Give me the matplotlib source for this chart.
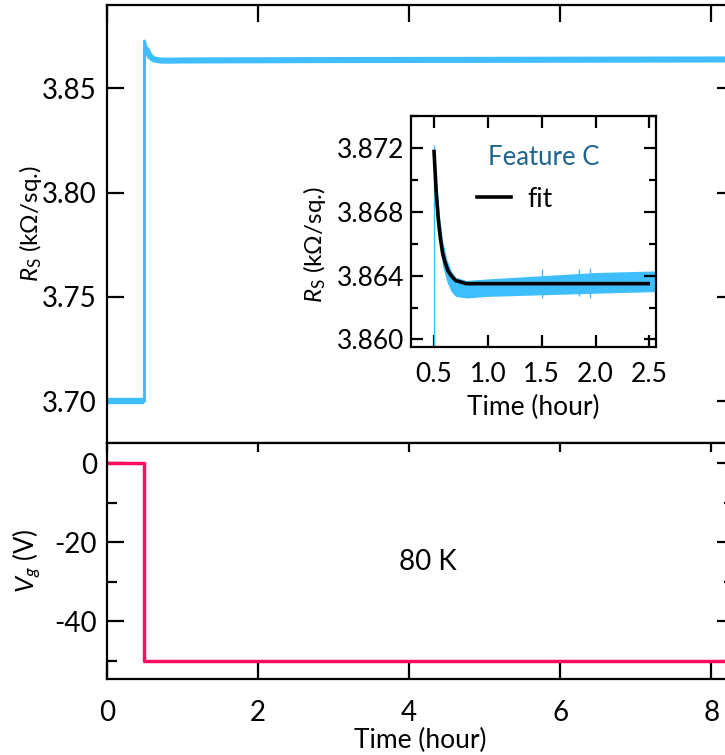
import matplotlib
matplotlib.use("Agg")
import matplotlib.pyplot as plt
from matplotlib.ticker import MultipleLocator, FormatStrFormatter

FONT = ['Lato', 'DejaVu Sans']
plt.rcParams['font.family'] = FONT
plt.rcParams['mathtext.fontset'] = 'custom'
plt.rcParams['mathtext.rm'] = 'Lato'
plt.rcParams['mathtext.it'] = 'Lato:italic'
plt.rcParams['axes.linewidth'] = 1.6
plt.rcParams['axes.unicode_minus'] = False

BLUE = '#3FBEFF'
RED = '#FF0D63'
TEAL = '#1D6490'

# main panel: sheet resistance (kOhm/sq.) vs time (hour)
rs_t = [0.0, 0.50, 0.50, 0.53, 0.57, 0.62, 0.70, 0.80, 1.0, 3.0, 5.0, 8.3]
rs_v = [3.7000, 3.7000, 3.8727, 3.8685, 3.8655, 3.8640, 3.8634, 3.8633,
        3.8634, 3.8636, 3.8637, 3.8639]

# gate voltage (V)
vg_t = [0.0, 0.5, 0.5, 8.3]
vg_v = [0, 0, -50, -50]

# inset: noisy data band, spikes and the fit
band_t = [0.50, 0.52, 0.55, 0.58, 0.62, 0.66, 0.70, 0.80, 1.00, 1.50, 2.00, 2.56]
band_hi = [3.8723, 3.8700, 3.8678, 3.8662, 3.8650, 3.8643, 3.8639, 3.8637,
           3.8638, 3.8640, 3.8642, 3.8643]
band_lo = [3.8712, 3.8688, 3.8662, 3.8646, 3.8636, 3.8630, 3.8627, 3.8626,
           3.8627, 3.8628, 3.8629, 3.8630]
spike_t = [0.50, 1.50, 1.85, 1.95]
spike_hi = [3.8722, 3.8644, 3.8644, 3.8645]
spike_lo = [3.8596, 3.8626, 3.8627, 3.8626]

fit_t = [0.50, 0.52, 0.54, 0.56, 0.58, 0.60, 0.63, 0.66, 0.70, 0.75, 0.80,
         0.90, 1.20, 2.49]
fit_r = [3.8718, 3.8693, 3.8675, 3.8663, 3.8654, 3.8649, 3.8643, 3.8640,
         3.8637, 3.8636, 3.8635, 3.8635, 3.8635, 3.8635]

fig = plt.figure(figsize=(7.25, 7.55), dpi=100)
W, H = 725, 755


def px_axes(l, t, r, b):
    return fig.add_axes([l / W, (H - b) / H, (r - l) / W, (b - t) / H])


ax1 = px_axes(106.7, 5, 734, 443)
ax2 = px_axes(106.7, 443, 734, 679.3)
ins = px_axes(411, 115.7, 656, 346.7)

# --- top panel
ax1.plot(rs_t, rs_v, color=BLUE, lw=2.2, solid_capstyle='butt')
ax1.plot(rs_t[:2], rs_v[:2], color=BLUE, lw=4.6, solid_capstyle='butt')
ax1.plot(rs_t[3:], rs_v[3:], color=BLUE, lw=4.4, solid_capstyle='round')
ax1.set_xlim(0, 8.3)
ax1.set_ylim(3.680, 3.890)
ax1.yaxis.set_major_locator(MultipleLocator(0.05))
ax1.xaxis.set_major_locator(MultipleLocator(2))
ax1.yaxis.set_major_formatter(FormatStrFormatter('%.2f'))
ax1.tick_params(axis='both', direction='in', length=12.5, width=1.6,
                labelsize=20, top=True, right=True, bottom=False,
                labelbottom=False, pad=7)
ax1.set_ylabel(r'$R_\mathrm{S}$ (kΩ/sq.)', fontsize=17.5)
ax1.yaxis.set_label_coords(-0.100, 0.5)

# --- bottom panel
ax2.plot(vg_t, vg_v, color=RED, lw=2.5, solid_capstyle='butt')
ax2.set_xlim(0, 8.3)
ax2.set_ylim(-54.7, 5.1)
ax2.yaxis.set_major_locator(MultipleLocator(20))
ax2.yaxis.set_minor_locator(MultipleLocator(10))
ax2.xaxis.set_major_locator(MultipleLocator(2))
ax2.tick_params(axis='both', which='major', direction='in', length=12.5,
                width=1.6, labelsize=20, right=True, pad=7)
ax2.tick_params(axis='x', which='major', pad=15)
ax2.tick_params(axis='y', which='minor', direction='in', length=7,
                width=1.6, right=True)
ax2.tick_params(axis='x', which='major', top=True)
for tk in ax2.xaxis.get_major_ticks():
    tk.tick2line.set_marker(matplotlib.lines.TICKDOWN)
    tk.tick2line.set_markersize(6.5)
ax2.set_xlabel('Time (hour)', fontsize=19, labelpad=1)
ax2.set_ylabel(r'$V_g$ (V)', fontsize=18.5)
ax2.yaxis.set_label_coords(-0.100, 0.5)
ax2.text(4.25, -25, '80 K', fontsize=20, ha='center', va='center')

# --- inset
ins.fill_between(band_t, band_lo, band_hi, color=BLUE, lw=0)
ins.vlines(spike_t, spike_lo, spike_hi, color=BLUE, lw=1.0)
ins.plot(fit_t, fit_r, color='black', lw=2.6, label='fit')
ins.set_xlim(0.286, 2.562)
ins.set_ylim(3.85954, 3.87405)
ins.xaxis.set_major_locator(MultipleLocator(0.5))
ins.yaxis.set_major_locator(MultipleLocator(0.004))
ins.yaxis.set_minor_locator(MultipleLocator(0.002))
ins.yaxis.set_major_formatter(FormatStrFormatter('%.3f'))
ins.xaxis.set_major_formatter(FormatStrFormatter('%.1f'))
ins.tick_params(axis='both', which='major', direction='in', length=8.5,
                width=1.6, labelsize=19, top=True, right=True, pad=5)
ins.tick_params(axis='x', which='major', pad=11)
ins.tick_params(axis='y', which='minor', direction='in', length=5,
                width=1.6, right=True)
ins.set_xlabel('Time (hour)', fontsize=19, labelpad=6)
ins.set_ylabel(r'$R_\mathrm{S}$ (kΩ/sq.)', fontsize=17.5)
ins.yaxis.set_label_coords(-0.339, 0.44)
ins.text(0.543, 0.817, 'Feature C', transform=ins.transAxes, fontsize=18.5,
         color=TEAL, ha='center', va='center')
ins.legend(loc='center left', bbox_to_anchor=(0.269, 0.639), frameon=False,
           fontsize=19, handlelength=1.3, handletextpad=0.6,
           borderpad=0, borderaxespad=0)

fig.savefig('out.png', dpi=100)
